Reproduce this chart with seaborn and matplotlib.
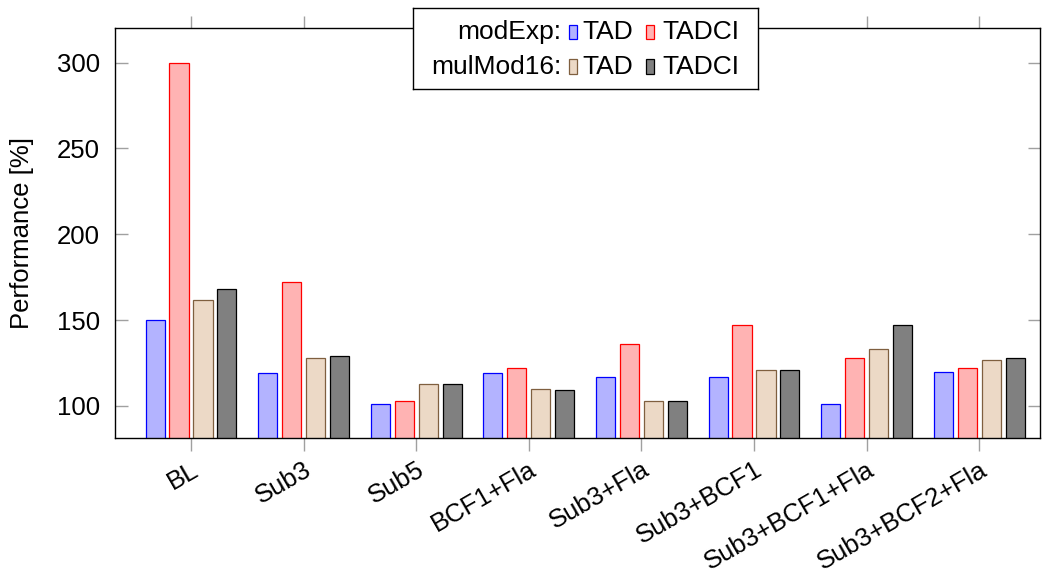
import matplotlib
matplotlib.use("Agg")
import matplotlib.pyplot as plt
from matplotlib.patches import Rectangle
import pandas as pd
import seaborn as sns

# Benchmark configurations and measured performance (%) per variant
configs = ["BL", "Sub3", "Sub5", "BCF1+Fla", "Sub3+Fla", "Sub3+BCF1",
           "Sub3+BCF1+Fla", "Sub3+BCF2+Fla"]
modexp_tad = [150, 119, 101, 119, 117, 117, 101, 120]
modexp_tadci = [300, 172, 103, 122, 136, 147, 128, 122]
mulmod_tad = [162, 128, 113, 110, 103, 121, 133, 127]
mulmod_tadci = [168, 129, 113, 109, 103, 121, 147, 128]

series_names = ["modExp TAD", "modExp TADCI", "mulMod16 TAD", "mulMod16 TADCI"]
series_values = [modexp_tad, modexp_tadci, mulmod_tad, mulmod_tadci]
yticks = [100, 150, 200, 250, 300]

fills = ["#b3b3ff", "#ffb3b3", "#ecd9c6", "#808080"]
edges = ["#0000ff", "#ff0000", "#7f5f3f", "#000000"]

rows = []
for name, vals in zip(series_names, series_values):
    for c, v in zip(configs, vals):
        rows.append({"config": c, "series": name, "perf": v})
df = pd.DataFrame(rows)

sns.set_style("ticks")
plt.rcParams["font.family"] = ["Liberation Sans", "DejaVu Sans"]
plt.rcParams["font.size"] = 18.5
plt.rcParams["text.color"] = "black"
plt.rcParams["axes.labelcolor"] = "black"

W, H = 1054, 576
fig = plt.figure(figsize=(W / 100, H / 100), dpi=100)
ax = fig.add_axes([115 / W, 1 - 438 / H, (1040 - 115) / W, (438 - 28) / H])

sns.barplot(data=df, x="config", y="perf", hue="series", hue_order=series_names,
            palette=fills, saturation=1, width=0.85, gap=0.2, legend=False,
            ax=ax, zorder=2)
for cont, ec in zip(ax.containers, edges):
    for p in cont:
        p.set_edgecolor(ec)
        p.set_linewidth(0.9)

ax.set_xlim(-0.675, len(configs) - 1 + 0.54)
ax.set_ylim(81.3, 320.2)
ax.set_yticks(yticks)
ax.set_xlabel("")
ax.set_ylabel("Performance [%]", labelpad=16, color="black")
ax.set_xticks(range(len(configs)))
ax.set_xticklabels(configs, rotation=30, ha="right", rotation_mode="anchor")

for s in ax.spines.values():
    s.set_visible(True)
    s.set_color("black")
    s.set_linewidth(1.0)

ax.tick_params(axis="y", direction="in", left=True, right=True, length=9,
               width=1.0, color="#a0a0a0", labelcolor="black", pad=11)
ax.tick_params(axis="x", direction="out", bottom=True, top=True, length=9,
               width=1.0, color="#a0a0a0", labelcolor="black", pad=5)

# Two-row legend box
lx0, ly0, lx1, ly1 = 412.7, 8.3, 758.0, 89.3
lw, lh = lx1 - lx0, ly1 - ly0
lax = fig.add_axes([lx0 / W, 1 - ly1 / H, lw / W, lh / H])
lax.set_xlim(0, lw)
lax.set_ylim(lh, 0)
lax.set_xticks([])
lax.set_yticks([])
lax.set_facecolor("white")
for s in lax.spines.values():
    s.set_color("black")
    s.set_linewidth(1.0)

legend_rows = [("modExp:", 23.7, 0, 1), ("mulMod16:", 58.4, 2, 3)]
for label, yc, i1, i2 in legend_rows:
    lax.text(149, yc, label, ha="right", va="center", fontsize=19, color="black")
    for idx, px, tx, txt in [(i1, 156.3, 169.5, "TAD"), (i2, 233.3, 249.5, "TADCI")]:
        lax.add_patch(Rectangle((px, yc - 7.5), 7.7, 15, facecolor=fills[idx],
                                edgecolor=edges[idx], linewidth=0.9))
        lax.text(tx, yc, txt, ha="left", va="center", fontsize=19, color="black")

fig.savefig("out.png", dpi=100)
